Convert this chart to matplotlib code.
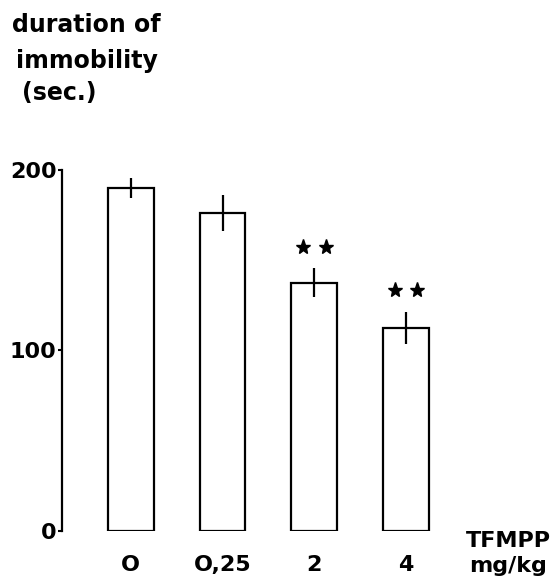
import matplotlib
matplotlib.use("Agg")
from matplotlib import pyplot as plt

# TFMPP dose groups and immobility duration (sec.)
doses = ["O", "O,25", "2", "4"]
immobility = [190, 176, 137.5, 112.5]
sem = [5.5, 10, 8, 9]
significant = [False, False, True, True]

plt.rcParams["font.family"] = "DejaVu Sans"
plt.rcParams["font.weight"] = "bold"

fig = plt.figure(figsize=(5.53, 5.79), dpi=100)
ax = fig.add_axes([0.1121, 0.0829, 0.705, 0.6235])

x = list(range(len(doses)))
ax.bar(x, immobility, width=0.5, color="white", edgecolor="black",
       linewidth=1.6, zorder=2)
ax.errorbar(x, immobility, yerr=sem, fmt="none", ecolor="black",
            elinewidth=1.6, capsize=0, zorder=3)

# significance stars
for xi, yi, e, sig in zip(x, immobility, sem, significant):
    if sig:
        for dx in (-0.125, 0.125):
            ax.plot(xi + dx, yi + e + 12, marker="*", color="black",
                    markersize=11, clip_on=False, zorder=4)

ax.set_xlim(-0.75, 3.5)
ax.set_ylim(0, 200)
ax.set_yticks([0, 100, 200])
ax.set_yticklabels(["0", "100", "200"], fontsize=16, fontweight="bold")
ax.set_xticks(x)
ax.set_xticklabels(doses, fontsize=16, fontweight="bold")
ax.tick_params(axis="x", length=0, pad=17)
ax.tick_params(axis="y", length=3, width=1.5, pad=1)

for side in ("top", "right", "bottom"):
    ax.spines[side].set_visible(False)
ax.spines["left"].set_linewidth(1.6)

fig.text(12 / 553, 1 - 32 / 579, "duration of", fontsize=17,
         fontweight="bold", va="baseline", ha="left")
fig.text(16 / 553, 1 - 68 / 579, "immobility", fontsize=17,
         fontweight="bold", va="baseline", ha="left")
fig.text(22 / 553, 1 - 100 / 579, "(sec.)", fontsize=17,
         fontweight="bold", va="baseline", ha="left")

fig.text(508 / 553, 1 - 541 / 579, "TFMPP", fontsize=16,
         fontweight="bold", va="center", ha="center")
fig.text(508 / 553, 1 - 566 / 579, "mg/kg", fontsize=16,
         fontweight="bold", va="center", ha="center")

fig.savefig("out.png", dpi=100)
